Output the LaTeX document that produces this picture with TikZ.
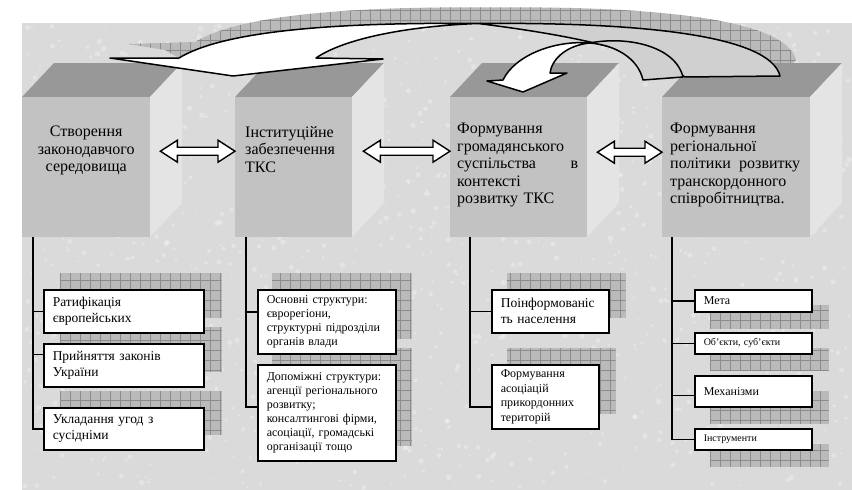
\documentclass[tikz,border=0pt]{standalone}
\usepackage{fontspec}
\setmainfont{Liberation Serif}
\usetikzlibrary{calc, positioning}
\definecolor{paper}{RGB}{218,218,218}
\definecolor{facefront}{RGB}{194,194,194}
\definecolor{facetop}{RGB}{152,152,152}
\definecolor{faceside}{RGB}{228,228,228}
\definecolor{hatchgray}{RGB}{186,186,186}
\definecolor{hatchline}{RGB}{140,140,140}
\definecolor{ribbon}{RGB}{208,208,208}
\newcommand{\bigtxt}{\fontsize{16}{17.5}\selectfont}
\newcommand{\midtxt}{\fontsize{13.5}{16}\selectfont}
\newcommand{\smalltxt}{\fontsize{12}{14}\selectfont}
\newcommand{\tinytxt}{\fontsize{10}{12}\selectfont}
\pgfdeclarelayer{back}
\pgfdeclarelayer{shade}
\pgfsetlayers{back,shade,main}
\tikzset{
  hatch/.style={fill=hatchgray, path picture={
      \draw[hatchline, line width=0.5pt] (path picture bounding box.south west)
        grid[step=10pt] (path picture bounding box.north east);}},
  ribbonline/.style={draw, line width=1.5pt, line join=round},
  dblarr/.style={draw, fill=white, line width=1.4pt, line join=miter,
    to path={let \p1=(\tikztostart), \p2=(\tikztotarget) in
      (\p1) -- (\x1+17pt,\y1+11pt) -- (\x1+17pt,\y1+4pt) -- (\x2-17pt,\y1+4pt)
      -- (\x2-17pt,\y1+11pt) -- (\x2,\y1) -- (\x2-17pt,\y1-11pt) -- (\x2-17pt,\y1-4pt)
      -- (\x1+17pt,\y1-4pt) -- (\x1+17pt,\y1-11pt) -- cycle}}
}
\begin{document}
\begin{tikzpicture}[x=1pt, y=-1pt,
  cubefront/.style={fill=facefront, anchor=north west, minimum height=140pt, inner sep=0pt},
  cubetext/.style={font=\bigtxt, inner sep=0pt},
  subbox/.style={draw, fill=white, line width=1.5pt, anchor=north west,
    inner xsep=9pt, inner ysep=0pt, align=left},
  conn/.style={line width=1.5pt}]
  \useasboundingbox (0,0) rectangle (852,490);

  % granite backdrop
  \begin{pgfonlayer}{back}
    \fill[paper] (22,23) rectangle (852,490);
    \pgfmathsetseed{11}
    \foreach \i in {1,...,1400}
      \fill[white, opacity=0.28] ({24+826*rnd},{25+463*rnd}) circle ({0.8+2*rnd});
  \end{pgfonlayer}

  % the four blocks
  \foreach \n/\x/\w in {1/22/128, 2/235/117, 3/450/137, 4/662/148} {
    \fill[facetop] (\x,97) -- ++(32,-34) -- ++(\w,0) -- ++(-32,34) -- cycle;
    \fill[faceside] (\x+\w,97) -- ++(32,-34) -- ++(0,140) -- ++(-32,34) -- cycle;
    \node[cubefront, minimum width=\w pt] (f\n) at (\x,97) {};
  }
  \node[cubetext, align=center, anchor=north] (c1) at ([yshift=-29pt]f1.north)
    {Створення\\законодавчого\\середовища};
  \node[cubetext, align=left, anchor=north west] (c2) at ([shift={(10,29)}]f2.north west)
    {Інституційне\\забезпечення\\ТКС};
  \node[cubetext, align=left, anchor=north west, text width=121pt] (c3)
    at ([shift={(7,26)}]f3.north west)
    {Формування\\громадянського\\суспільства\hfill в\\контексті\\розвитку ТКС};
  \node[cubetext, align=left, anchor=north west, text width=130pt] (c4)
    at ([shift={(8,26)}]f4.north west)
    {Формування\\регіональної\\політики~\hfill розвитку\\транскордонного\\співробітництва.};

  % two-way arrows between the blocks
  \coordinate (a12) at ([shift={(10,-16)}]f1.east);
  \coordinate (b12) at ([shift={(0,-16)}]f2.west);
  \coordinate (a23) at ([shift={(11,-16)}]f2.east);
  \coordinate (b23) at ([shift={(0,-16)}]f3.west);
  \coordinate (a34) at ([shift={(10,-15)}]f3.east);
  \coordinate (b34) at ([shift={(0,-15)}]f4.west);
  \draw[dblarr] (a12) to (b12);
  \draw[dblarr] (a23) to (b23);
  \draw[dblarr] (a34) to (b34);

  % curved arrows over the top
  \begin{pgfonlayer}{shade}
    \path[hatch] (128,44) -- (195,42)
      .. controls (236,17) and (336,6) .. (494,7.5)
      .. controls (656,6) and (786,19) .. (796,60) -- (780,76)
      .. controls (770,35) and (640,22) .. (478,23.5)
      .. controls (320,22) and (220,33) .. (179,58) -- (165,50) -- cycle;
  \end{pgfonlayer}
  \draw[ribbonline, fill=white] (179,58) -- (110,58) -- (233,76) -- (383,59) -- (316,58)
    .. controls (345,38) and (410,26) .. (478,23.5)
    .. controls (320,22) and (220,33) .. (179,58) -- cycle;
  \draw[ribbonline, fill=ribbon] (478,23.5) .. controls (640,22) and (770,35) .. (780,76)
    -- (685,77) .. controls (640,45) and (530,30) .. (478,23.5) -- cycle;
  \draw[ribbonline, fill=ribbon] (590,43) .. controls (625,36) and (675,45) .. (683,77)
    -- (643,80) .. controls (638,58) and (615,45) .. (590,43) -- cycle;
  \draw[ribbonline, fill=white] (503,80) -- (487,81) -- (523,92) -- (567,73) -- (550,73)
    .. controls (552,58) and (568,45) .. (590,43)
    .. controls (555,40) and (515,55) .. (503,80) -- cycle;

  % column 1
  \node[subbox, font=\midtxt, text width=142pt, minimum height=43pt] (s1) at (43,289)
    {Ратифікація\\європейських};
  \node[subbox, font=\midtxt, text width=142pt, minimum height=43pt] (s2) at (43,343)
    {Прийняття законів\\України};
  \node[subbox, font=\midtxt, text width=142pt, minimum height=42pt] (s3) at (43,407)
    {Укладання угод з\\сусідніми};

  % column 2
  \node[subbox, font=\smalltxt, text width=120pt, minimum height=64pt] (t1) at (257,289)
    {Основні структури:\\єврорегіони,\\структурні підрозділи\\органів влади};
  \node[subbox, font=\smalltxt, text width=120pt, minimum height=96pt] (t2) at (257,364)
    {Допоміжні структури:\\агенції регіонального\\розвитку;\\консалтингові фірми,\\асоціації, громадські\\організації тощо};

  % column 3
  \node[subbox, font=\midtxt, text width=99pt, minimum height=43pt] (u1) at (491,289)
    {Поінформованіс\\ть населення};
  \node[subbox, font=\fontsize{12}{14.5}\selectfont, text width=89pt, minimum height=64pt] (u2)
    at (491,364) {Формування\\асоціацій\\прикордонних\\територій};

  % column 4
  \node[subbox, font=\smalltxt, text width=99pt, minimum height=22pt] (v1) at (694,289) {Мета};
  \node[subbox, font=\tinytxt, text width=99pt, minimum height=21pt] (v2) at (694,332)
    {Об’єкти, суб’єкти};
  \node[subbox, font=\smalltxt, text width=99pt, minimum height=31pt] (v3) at (694,375)
    {Механізми};
  \node[subbox, font=\tinytxt, text width=99pt, minimum height=21pt] (v4) at (694,428)
    {Інструменти};

  % hatched shadows of the small boxes
  \begin{pgfonlayer}{shade}
    \foreach \b/\dx/\dy in {s1/17/-16, s2/17/-16, s3/17/-16, t1/15/-16, t2/15/-16,
        u1/16/-16, u2/16/-16, v1/16/16, v2/16/16, v3/16/16, v4/16/16}
      \path[hatch] ([shift={(\dx,\dy)}]\b.north west) rectangle ([shift={(\dx,\dy)}]\b.south east);
  \end{pgfonlayer}

  % trunks and branches
  \coordinate (k1) at ([xshift=11pt]f1.south west);
  \coordinate (k2) at ([xshift=11pt]f2.south west);
  \coordinate (k3) at ([xshift=20pt]f3.south west);
  \coordinate (k4) at ([xshift=10pt]f4.south west);
  \draw[conn] (k1) |- (s3.west);
  \draw[conn] (s1.west) -- (s1.west -| k1);
  \draw[conn] ([yshift=11pt]s2.west) -- ([yshift=11pt]s2.west -| k1);
  \draw[conn] (k2) |- ([yshift=6pt]t2.west);
  \draw[conn] ([yshift=10pt]t1.west) -- ([yshift=10pt]t1.west -| k2);
  \draw[conn] (k3) |- ([yshift=-10pt]u2.west);
  \draw[conn] (u1.west) -- (u1.west -| k3);
  \draw[conn] (k4) |- (v4.west);
  \draw[conn] (v1.west) -- (v1.west -| k4);
  \draw[conn] (v2.west) -- (v2.west -| k4);
  \draw[conn] ([yshift=-4pt]v3.west) -- ([yshift=-4pt]v3.west -| k4);
\end{tikzpicture}
\end{document}
